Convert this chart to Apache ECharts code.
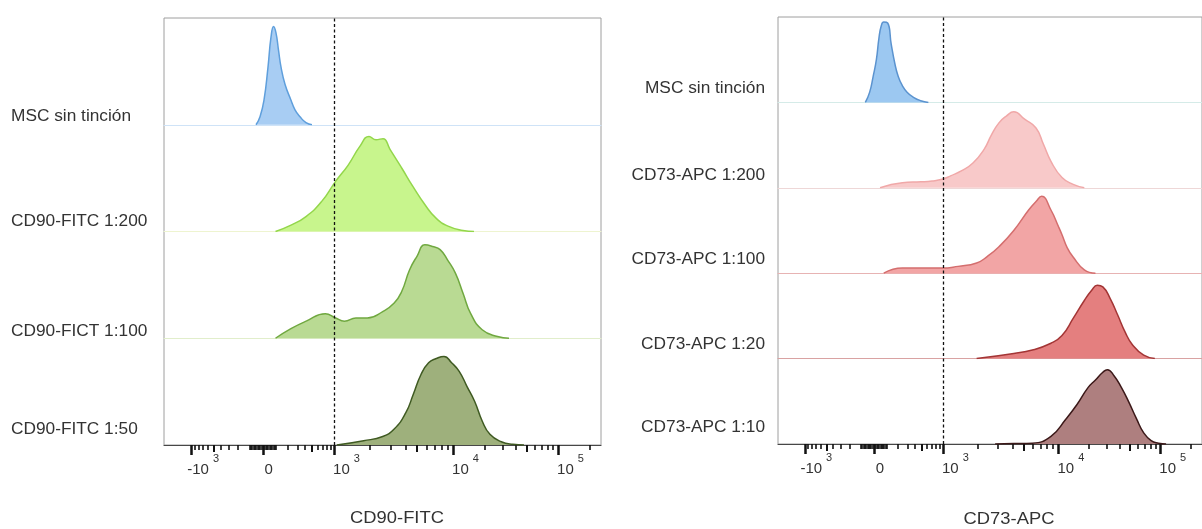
<!DOCTYPE html>
<html><head><meta charset="utf-8">
<script src="https://cdn.jsdelivr.net/npm/echarts@6/dist/echarts.min.js"></script>
<style>html,body{margin:0;padding:0;background:#fff}#c{width:1202px;height:529px}</style>
</head><body><div id="c"></div>
<script>
// ---------- DATA (x in display channels 0..1024, y in % of row height) ----------
const leftLabels  = ['MSC sin tinción', 'CD90-FITC 1:200', 'CD90-FICT 1:100', 'CD90-FITC 1:50'];
const rightLabels = ['MSC sin tinción', 'CD73-APC 1:200', 'CD73-APC 1:100', 'CD73-APC 1:20', 'CD73-APC 1:10'];
const axisTitles  = ['CD90-FITC', 'CD73-APC'];
const tickValues  = [-1000, 0, 1000, 10000, 100000];
const tickBase    = ['-10', '0', '10', '10', '10'];
const tickExp     = ['3', '', '3', '4', '5'];
const cutoffValue = 1000;

const mscL = [[215.6,0],[225,7.5],[234.3,23],[243.7,54],[250.7,82],[256.8,92],[262.4,86],[268.3,70],[274.2,54],[283.5,38],[297.6,23],[307,14],[318.7,7.5],[332.7,2],[346.8,0]];
const cd90_200 = [[261.3,0],[297.6,6],[332.7,14],[369.1,28],[402.1,47],[431.2,62],[459.3,80],[480.4,89],[496.8,86],[513.2,87],[529.6,77],[557.7,59],[583.5,42],[611.6,25],[637.4,12.5],[665.5,5],[700.6,1],[726.4,0]];
const cd90_100 = [[261.3,0],[297.4,9],[333.2,16],[378,23],[402.1,19],[422.7,16],[449.7,19],[476.6,19],[512.5,25],[539.4,33],[557.2,44],[575.3,64],[593.1,77],[611.1,87.5],[629.2,86],[647,83],[665,73],[682.8,61],[700.9,42],[718.7,23],[745.6,8],[781.5,1.6],[808.4,0]];
const cd90_50 = [[404.9,0],[467.7,4],[512.5,8],[539.4,15],[566.4,30],[584.2,47.5],[602.2,66],[620,77],[638.1,81],[656.1,83],[673.9,77],[691.7,69],[709.8,55],[727.8,41],[745.6,22.5],[763.7,10],[790.4,3],[817.3,0.6],[843.6,0]];

const mscR = [[210.9,0],[221.4,12],[229.6,30],[237.6,50],[243.7,75],[249.6,90],[255.4,94],[264.8,93],[273.5,68],[282.4,45],[290.6,30],[299.9,20],[311.7,12],[327.1,6],[344.5,2],[363.2,0]];
const cd73_200 = [[246.5,0],[300.4,6],[345.2,7],[372.1,8],[396.3,10],[416.9,14],[443.8,20],[470.8,29],[497.7,45],[515.5,62],[533.6,76],[551.4,84],[569.4,89],[596.4,80],[623.1,70],[641.1,51],[659.2,31],[685.9,12],[712.8,4],[739.8,0]];
const cd73_100 = [[255.4,0],[300.4,6],[345.2,6],[396.3,6],[434.9,8],[479.7,12],[506.6,20],[533.6,31],[569.4,50],[605.3,74],[623.1,84],[636.7,90],[659.2,74],[677,55],[685.9,45],[698.3,30],[712.8,19],[739.8,4],[766.7,0]];
const cd73_20 = [[479.7,0],[569.4,6],[614.2,10],[659.2,18],[685.9,27],[712.8,47],[739.8,68],[757.6,80],[771.2,86],[784.5,84],[802.6,70],[820.4,51],[838.4,31],[856.3,16],[883.2,4],[910.1,0]];
const cd73_10 = [[524.4,0],[569.4,0.5],[614.2,1],[659.2,9],[695,29],[721.7,46],[748.7,66],[766.7,75],[784.5,84],[795.3,87],[811.5,80],[829.5,66],[847.3,49],[865.4,30],[883.2,13],[901.2,4],[919,1],[937.3,0]];

// ---------- biexponential display transform (value -> channel) ----------
const CH_MAX = 1024, CH_ZERO = 231.5, CH_LIN = 166.8, LIN_W = 250, CH_D34 = 278.9, CH_D45 = 246.0;
function T(v) {
  const a = Math.abs(v), s = Math.sign(v);
  if (a <= 1000) return CH_ZERO + CH_LIN * Math.asinh(v / LIN_W) / Math.asinh(1000 / LIN_W);
  const L = Math.log10(a);
  const d = L < 4 ? (L - 3) * CH_D34 : CH_D34 + (L - 4) * CH_D45;
  return CH_ZERO + s * (CH_LIN + d);
}
const majorPos = tickValues.map(T);
const mediumVals = [-500, 500, 5000, 50000];
const minorVals = [];
for (let k = 1; k <= 9; k++) { minorVals.push(k * 10, -k * 10); if (k !== 5) minorVals.push(k * 100, -k * 100); }
for (let k = 2; k <= 9; k++) { if (k !== 5) minorVals.push(k * 1000, k * 10000); }
minorVals.push(200000);
const mediumPos = mediumVals.map(T).filter(c => c >= 0 && c <= CH_MAX);
const minorPos = minorVals.map(T).filter(c => c >= 0 && c <= CH_MAX);

// ---------- LAYOUT / STYLE ----------
const FONT = '"Liberation Sans", Arial, Helvetica, sans-serif';
const TXT = '#333';
const panels = [
  { left: 164, top: 18, width: 437, height: 427, labels: leftLabels,
    data: [mscL, cd90_200, cd90_100, cd90_50],
    fills:   ['#a8cdf3', '#c8f58d', '#b9da93', '#9eb07c'],
    strokes: ['#5f9fdc', '#93d64b', '#70a840', '#3f5a22'],
    bases:   ['#cfe3f7', '#eef4d0', '#e1eecb', null],
    labelX: 11, labelAlign: 'left', labelY: [116.7, 221.7, 331.7, 430],
    titleX: 397, titleY: 518 },
  { left: 778, top: 17, width: 437, height: 427, labels: rightLabels,
    data: [mscR, cd73_200, cd73_100, cd73_20, cd73_10],
    fills:   ['#9cc8f1', '#f8c9c9', '#f2a5a5', '#e47f7f', '#ae7f7f'],
    strokes: ['#5b93cf', '#f0a8a8', '#d46e6e', '#a33535', '#3b1818'],
    bases:   ['#d5ebe8', '#eed7d7', '#e7b3b3', '#d9a2a2', null],
    labelX: 765, labelAlign: 'right', labelY: [89, 176, 260, 345, 428],
    titleX: 1009, titleY: 519 }
];
const labelPads = [23, 12, 25, 25, 25];

const grids = [], xAxes = [], yAxes = [], series = [], graphics = [];
function hiddenX(g, extra) {
  return Object.assign({ gridIndex: g, type: 'value', min: 0, max: CH_MAX, position: 'bottom',
    axisLine: { show: false, onZero: false }, axisTick: { show: false }, axisLabel: { show: false },
    splitLine: { show: false } }, extra || {});
}
panels.forEach((p, pi) => {
  const g = grids.length;
  grids.push({ left: p.left, top: p.top, width: p.width, height: p.height, show: true,
    borderColor: '#9e9e9e', borderWidth: 1, backgroundColor: 'transparent' });
  const xMain = xAxes.length;
  xAxes.push(hiddenX(g, {
    axisLine: { show: true, onZero: false, lineStyle: { color: '#474747', width: 1.2 } },
    axisTick: { show: true, length: 10, lineStyle: { color: '#111', width: 2.5 }, customValues: majorPos },
    axisLabel: { show: true, customValues: majorPos, margin: 8,
      formatter: function (val) {
        let i = 0, best = 1e9;
        majorPos.forEach((m, j) => { const d = Math.abs(m - val); if (d < best) { best = d; i = j; } });
        return '{p' + i + '| }{b|' + tickBase[i] + '}' + (tickExp[i] ? '{s|' + tickExp[i] + '}' : '');
      },
      rich: {
        p0: { width: labelPads[0] }, p1: { width: labelPads[1] }, p2: { width: labelPads[2] },
        p3: { width: labelPads[3] }, p4: { width: labelPads[4] },
        b: { fontSize: 15, fontFamily: FONT, color: TXT, verticalAlign: 'bottom', lineHeight: 24 },
        s: { fontSize: 11, fontFamily: FONT, color: TXT, verticalAlign: 'top', lineHeight: 13, padding: [0, 0, 0, 4] }
      } }
  }));
  xAxes.push(hiddenX(g, { axisTick: { show: true, length: 7, lineStyle: { color: '#111', width: 2 }, customValues: mediumPos } }));
  xAxes.push(hiddenX(g, { axisTick: { show: true, length: 5, lineStyle: { color: '#111', width: 1.6 }, customValues: minorPos } }));
  const yMain = yAxes.length;
  yAxes.push({ gridIndex: g, type: 'value', min: 0, max: 1, show: false });
  series.push({ type: 'line', xAxisIndex: xMain, yAxisIndex: yMain, data: [], silent: true, z: 10,
    markLine: { silent: true, symbol: ['none', 'none'], label: { show: false }, animation: false,
      lineStyle: { color: '#111', type: [3, 2.5], width: 1.3 }, emphasis: { disabled: true },
      data: [{ xAxis: T(cutoffValue) }] } });

  const n = p.data.length, rh = p.height / n;
  p.data.forEach((d, r) => {
    const gr = grids.length;
    grids.push({ left: p.left, top: p.top + r * rh, width: p.width, height: rh, show: false });
    const xi = xAxes.length;
    xAxes.push(hiddenX(gr, p.bases[r] ? { axisLine: { show: true, onZero: false, lineStyle: { color: p.bases[r], width: 1.2 } } } : {}));
    const yi = yAxes.length;
    yAxes.push({ gridIndex: gr, type: 'value', min: 0, max: 100, show: false });
    series.push({ type: 'line', name: p.labels[r], xAxisIndex: xi, yAxisIndex: yi, data: d,
      smooth: 0.5, symbol: 'none', silent: true, z: 3,
      lineStyle: { color: p.strokes[r], width: 1.5 },
      areaStyle: { color: p.fills[r], opacity: 1 } });
    graphics.push({ type: 'text', x: p.labelX, y: p.labelY[r], scaleX: 1.08, silent: true,
      style: { text: p.labels[r], fontSize: 16, fontFamily: FONT, fill: TXT,
        textAlign: p.labelAlign, align: p.labelAlign, textVerticalAlign: 'middle', verticalAlign: 'middle' } });
  });
  graphics.push({ type: 'text', x: p.titleX, y: p.titleY, scaleX: 1.08, silent: true,
    style: { text: axisTitles[pi], fontSize: 17, fontFamily: FONT, fill: TXT,
      textAlign: 'center', align: 'center', textVerticalAlign: 'middle', verticalAlign: 'middle' } });
});

const chart = echarts.init(document.getElementById('c'), null, { renderer: 'canvas' });
chart.setOption({
  animation: false,
  backgroundColor: '#fff',
  textStyle: { fontFamily: FONT },
  grid: grids, xAxis: xAxes, yAxis: yAxes, series: series, graphic: graphics
});
</script></body></html>
